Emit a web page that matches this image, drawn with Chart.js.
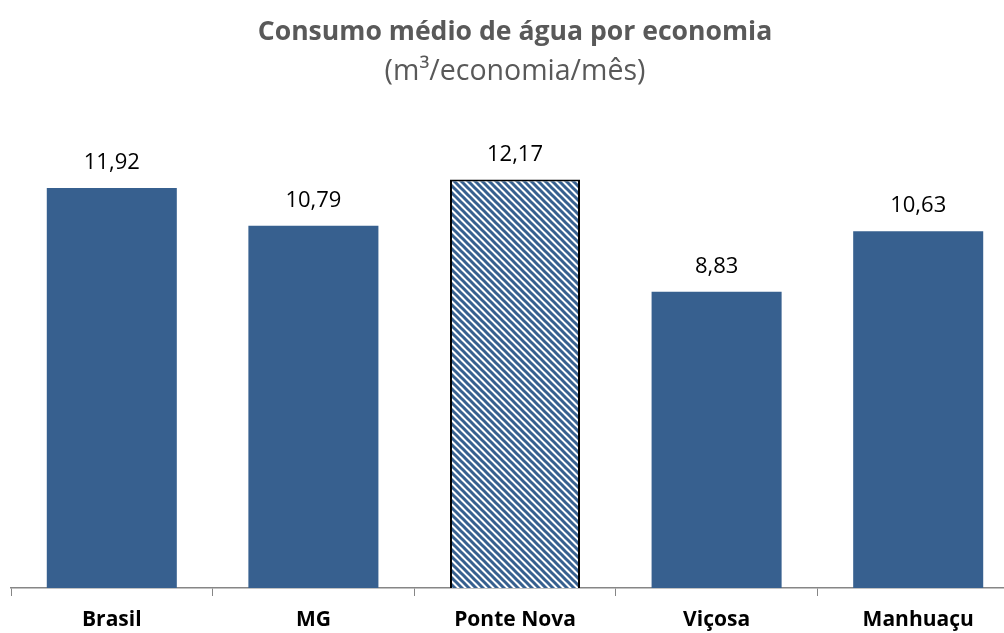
<!DOCTYPE html>
<html>
<head>
<meta charset="utf-8">
<script src="https://cdn.jsdelivr.net/npm/chart.js@4"></script>
<style>
  html, body { margin: 0; padding: 0; background: #fff; overflow: hidden; }
  #wrap { width: 1030px; height: 633px; }
</style>
</head>
<body>
<div id="wrap"><canvas id="consumoChart" width="1030" height="633"></canvas></div>
<script>
const categorias = ['Brasil', 'MG', 'Ponte Nova', 'Viçosa', 'Manhuaçu'];
const consumo = [11.92, 10.79, 12.17, 8.83, 10.63];
const destaque = 'Ponte Nova';

const azul = '#37608f';

// listras diagonais para a barra em destaque
function hachura() {
    const c = document.createElement('canvas');
    c.width = 7; c.height = 7;
    const g = c.getContext('2d');
    g.fillStyle = '#ffffff';
    g.fillRect(0, 0, 7, 7);
    g.strokeStyle = azul;
    g.lineWidth = 3;
    g.beginPath();
    g.moveTo(-3, -3); g.lineTo(10, 10);
    g.moveTo(-10, -3); g.lineTo(3, 10);
    g.moveTo(4, -3); g.lineTo(17, 10);
    g.stroke();
    return g.createPattern(c, 'repeat');
}
const listras = hachura();

const valores = {
    id: 'valores',
    afterDatasetsDraw(chart) {
        const ctx = chart.ctx;
        const meta = chart.getDatasetMeta(0);
        ctx.save();
        ctx.font = '22px "Open Sans"';
        ctx.fillStyle = '#000';
        ctx.textAlign = 'center';
        ctx.textBaseline = 'alphabetic';
        meta.data.forEach((bar, i) => {
            const txt = consumo[i].toFixed(2).replace('.', ',');
            ctx.fillText(txt, bar.x, bar.y - 19);
        });
        ctx.restore();
    }
};

new Chart(document.getElementById('consumoChart'), {
    type: 'bar',
    data: {
        labels: categorias,
        datasets: [{
            data: consumo,
            backgroundColor: categorias.map(c => c === destaque ? listras : azul),
            borderColor: categorias.map(c => c === destaque ? '#000' : azul),
            borderWidth: categorias.map(c => c === destaque ? 2 : 0),
            barPercentage: 0.645,
            categoryPercentage: 1
        }]
    },
    options: {
        responsive: false,
        animation: false,
        layout: { padding: { left: 11, right: 11, top: 0, bottom: 0 } },
        plugins: {
            legend: { display: false },
            tooltip: { enabled: false },
            title: {
                display: true,
                text: 'Consumo médio de água por economia',
                color: '#595959',
                font: { family: 'Open Sans', size: 26.6, weight: 'bold' },
                padding: { top: 16, bottom: 7 }
            },
            subtitle: {
                display: true,
                text: '(m³/economia/mês)',
                color: '#595959',
                font: { family: 'Open Sans', size: 28.5, weight: 'normal' },
                padding: { top: 0, bottom: 29 }
            }
        },
        scales: {
            x: {
                border: { color: '#868686', width: 1.5 },
                grid: { drawOnChartArea: false, tickLength: 8, color: '#868686', offset: true },
                ticks: { color: '#000', font: { family: 'Open Sans', size: 21, weight: 'bold' }, padding: 11 },
                afterFit(scale) { scale.height = 45; }
            },
            y: {
                display: false,
                min: 0,
                max: 14
            }
        }
    },
    plugins: [valores]
});
</script>
</body>
</html>
